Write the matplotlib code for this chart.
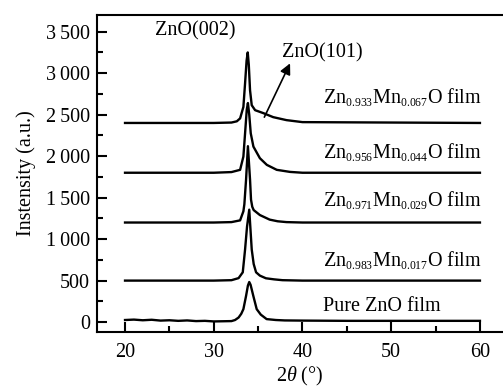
import matplotlib
matplotlib.use("Agg")
import matplotlib.pyplot as plt
import matplotlib._mathtext as _mt
from matplotlib.ticker import MultipleLocator, FuncFormatter

_mt.SHRINK_FACTOR = 0.58

plt.rcParams['font.family'] = ['Liberation Serif', 'DejaVu Serif']
plt.rcParams['mathtext.fontset'] = 'custom'
plt.rcParams['mathtext.rm'] = 'Liberation Serif'
plt.rcParams['mathtext.it'] = 'Liberation Serif:italic'

# ---- data (2theta in degrees, intensity a.u.) ----
x_pure = [20, 21, 22, 23, 24, 25, 26, 27, 28, 29, 30, 31, 32, 32.4, 32.8, 33.1, 33.34,
          33.64, 33.85, 34.0, 34.15, 34.46, 34.84, 35.3, 35.96, 37, 38, 40, 45, 50, 55, 60]
y_pure = [25, 30, 22, 28, 18, 22, 15, 20, 12, 15, 8, 10, 12, 25, 55, 100, 156,
          315, 440, 483, 450, 315, 156, 90, 36, 25, 20, 18, 15, 15, 15, 15]

x_983 = [20, 25, 30, 32, 32.8, 33.27, 33.53, 33.75, 34.0, 34.12, 34.28, 34.5, 34.77,
         35.2, 35.88, 36.8, 37.75, 40, 50, 60]
y_983 = [500, 500, 500, 505, 530, 600, 875, 1150, 1355, 1150, 875, 700, 600,
         560, 528, 515, 505, 500, 500, 500]

x_971 = [20, 25, 30, 32, 32.97, 33.34, 33.45, 33.64, 33.85, 34.09, 34.2, 34.34, 34.5,
         35.2, 36.3, 37.2, 38.2, 40, 50, 60]
y_971 = [1200, 1200, 1200, 1205, 1226, 1335, 1420, 1715, 2120, 1715, 1475, 1390, 1350,
         1290, 1235, 1215, 1205, 1200, 1200, 1200]

x_956 = [20, 25, 30, 32, 32.97, 33.34, 33.53, 33.72, 33.85, 34.0, 34.17, 34.47,
         35.2, 35.98, 37.1, 38.6, 40, 50, 60]
y_956 = [1800, 1800, 1800, 1808, 1835, 1995, 2275, 2560, 2640, 2500, 2275, 2115,
         1975, 1895, 1835, 1810, 1800, 1800, 1800]

x_933 = [20, 25, 30, 32, 32.6, 32.97, 33.34, 33.53, 33.7, 33.83, 33.95, 34.09, 34.28,
         34.66, 35.6, 36.7, 38.2, 40, 50, 60]
y_933 = [2400, 2400, 2400, 2405, 2420, 2455, 2593, 2878, 3150, 3250, 3100, 2794, 2614,
         2554, 2518, 2470, 2434, 2410, 2405, 2400]

series = [(x_pure, y_pure), (x_983, y_983), (x_971, y_971), (x_956, y_956), (x_933, y_933)]

labels = [r"Pure ZnO film",
          r"Zn$_{0.983}$Mn$_{0.017}$O film",
          r"Zn$_{0.971}$Mn$_{0.029}$O film",
          r"Zn$_{0.956}$Mn$_{0.044}$O film",
          r"Zn$_{0.933}$Mn$_{0.067}$O film"]
label_y = [192, 743, 1475, 2050, 2710]

fig = plt.figure(figsize=(5.03, 3.87), dpi=100)
ax = fig.add_axes([0.193, 0.142, 0.807, 0.819])

for xs, ys in series:
    ax.plot(xs, ys, color='black', lw=1.7, solid_joinstyle='round')

for lab, ly in zip(labels, label_y):
    ax.text(42.3, ly, lab, fontsize=14.5, va='center', ha='left')

ax.text(27.9, 3513, "ZnO(002)", fontsize=14.5, ha='center', va='center')
ax.text(42.2, 3250, "ZnO(101)", fontsize=14.5, ha='center', va='center')
ax.annotate("", xy=(38.6, 3118), xytext=(35.7, 2470),
            arrowprops=dict(arrowstyle='-|>', color='black', lw=1.2, mutation_scale=16,
                            shrinkA=0, shrinkB=0))

ax.set_xlim(16.85, 62.6)
ax.set_ylim(-120, 3700)
ax.xaxis.set_major_locator(MultipleLocator(10))
ax.xaxis.set_minor_locator(MultipleLocator(5))
ax.yaxis.set_major_locator(MultipleLocator(500))
ax.yaxis.set_minor_locator(MultipleLocator(250))

def yfmt(v, pos):
    v = int(round(v))
    if v >= 1000:
        return f"{v // 1000}\u2009{v % 1000:03d}"
    return str(v)
ax.yaxis.set_major_formatter(FuncFormatter(yfmt))

ax.tick_params(which='both', direction='in', top=False, right=False, width=1.5, labelsize=14.5)
ax.tick_params(which='major', length=7)
ax.tick_params(which='minor', length=4)
ax.tick_params(axis='x', pad=8)
ax.tick_params(axis='y', pad=5)
for s in ['left', 'bottom', 'top']:
    ax.spines[s].set_linewidth(1.5)
ax.spines['right'].set_visible(False)

ax.set_xlabel(r"2$\it{\theta}$ (°)", fontsize=14.5, labelpad=2)
ax.set_ylabel("Instensity (a.u.)", fontsize=14.5, labelpad=7)

fig.savefig("out.png", dpi=100)
